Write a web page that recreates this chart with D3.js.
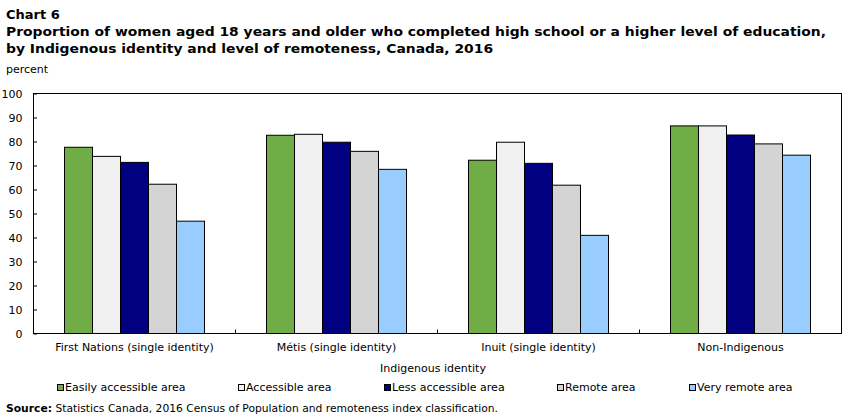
<!DOCTYPE html>
<html>
<head>
<meta charset="utf-8">
<script src="https://cdn.jsdelivr.net/npm/d3@7"></script>
<style>
  html, body { margin: 0; padding: 0; background: #fff; }
  svg { display: block; font-family: "DejaVu Sans", Verdana, sans-serif; }
</style>
</head>
<body>
<svg id="chart" width="852" height="417"></svg>
<script>
const categories = ["First Nations (single identity)", "Métis (single identity)", "Inuit (single identity)", "Non-Indigenous"];
const seriesNames = ["Easily accessible area", "Accessible area", "Less accessible area", "Remote area", "Very remote area"];
const easilyAccessible = [77.6, 82.6, 72.2, 86.5];
const accessible       = [73.8, 83.0, 79.7, 86.5];
const lessAccessible   = [71.3, 79.7, 70.9, 82.7];
const remote           = [62.2, 75.9, 61.8, 79.0];
const veryRemote       = [46.8, 68.4, 40.9, 74.3];
const yTicks = [0, 10, 20, 30, 40, 50, 60, 70, 80, 90, 100];
const colors = ["#70ad47", "#f0f0f0", "#000080", "#d4d4d4", "#99ccff"];

const seriesValues = [easilyAccessible, accessible, lessAccessible, remote, veryRemote];
const data = categories.map((c, i) => ({
  category: c,
  values: seriesNames.map((s, j) => ({ series: s, value: seriesValues[j][i], color: colors[j] }))
}));

const svg = d3.select("#chart");
const L = 33.5, R = 841.5, T = 93.5, B = 333.5;

const x0 = d3.scaleBand().domain(categories).range([L, R]).paddingInner(0).paddingOuter(0);
const bw = x0.bandwidth();
const barW = 28;
const po = (bw / barW - seriesNames.length) / 2;
const x1 = d3.scaleBand().domain(seriesNames).range([0, bw]).paddingInner(0).paddingOuter(po);
const y = d3.scaleLinear().domain([0, 100]).range([B, T]);

// Title
const title = svg.append("g").attr("font-weight", "bold").attr("fill", "#000");
title.append("text").attr("x", 6).attr("y", 19).attr("font-size", 13).text("Chart 6");
const t1 = title.append("text").attr("x", 6).attr("y", 36).attr("font-size", 13)
  .text("Proportion of women aged 18 years and older who completed high school or a higher level of education,");
const t2 = title.append("text").attr("x", 6).attr("y", 53).attr("font-size", 13)
  .text("by Indigenous identity and level of remoteness, Canada, 2016");
const w1 = t1.node().getComputedTextLength();
const target1 = 820;
const ratio = target1 / w1;
t1.attr("textLength", target1).attr("lengthAdjust", "spacingAndGlyphs");
t2.attr("textLength", t2.node().getComputedTextLength() * ratio).attr("lengthAdjust", "spacingAndGlyphs");

svg.append("text").attr("x", 6).attr("y", 73).attr("font-size", 11).text("percent");

// Bars
const groups = svg.append("g").selectAll("g").data(data).join("g")
  .attr("transform", d => `translate(${x0(d.category)},0)`);
groups.selectAll("rect").data(d => d.values).join("rect")
  .attr("x", d => x1(d.series))
  .attr("y", d => y(d.value))
  .attr("width", x1.bandwidth())
  .attr("height", d => y(0) - y(d.value))
  .attr("fill", d => d.color)
  .attr("stroke", "#000")
  .attr("stroke-width", 1);

// Y axis
const yAxis = d3.axisLeft(y).tickValues(yTicks).tickSize(-3.5).tickPadding(11).tickFormat(d3.format("d"));
const gy = svg.append("g").attr("transform", `translate(${L},0)`).call(yAxis);
gy.select(".domain").remove();
gy.selectAll("text").attr("font-size", 11).attr("font-family", "DejaVu Sans, Verdana, sans-serif").attr("fill", "#000");
gy.selectAll("line").attr("stroke", "#000");

// X axis (labels + boundary ticks)
const xAxis = d3.axisBottom(x0).tickSize(0).tickPadding(10);
const gx = svg.append("g").attr("transform", `translate(0,${B})`).call(xAxis);
gx.select(".domain").remove();
gx.selectAll("text").attr("font-size", 11).attr("font-family", "DejaVu Sans, Verdana, sans-serif").attr("fill", "#000");
const bounds = categories.slice(1).map(c => x0(c));
svg.append("g").selectAll("line").data(bounds).join("line")
  .attr("x1", d => d).attr("x2", d => d)
  .attr("y1", B).attr("y2", B - 4)
  .attr("stroke", "#000");

// Frame
svg.append("rect").attr("x", L).attr("y", T).attr("width", R - L).attr("height", B - T)
  .attr("fill", "none").attr("stroke", "#000").attr("stroke-width", 1);

svg.append("text").attr("x", 433).attr("y", 372).attr("text-anchor", "middle").attr("font-size", 11)
  .text("Indigenous identity");

// Legend
const legendX = [57, 238, 384, 557, 689];
const lg = svg.append("g").selectAll("g").data(seriesNames).join("g")
  .attr("transform", (d, i) => `translate(${legendX[i]},0)`);
lg.append("rect").attr("x", 0.5).attr("y", 384.5).attr("width", 6).attr("height", 6)
  .attr("fill", (d, i) => colors[i]).attr("stroke", "#000").attr("stroke-width", 1);
lg.append("text").attr("x", 8).attr("y", 391).attr("font-size", 11).text(d => d);

// Source
const src = svg.append("text").attr("x", 6).attr("y", 412).attr("font-size", 11);
src.append("tspan").attr("font-weight", "bold").text("Source:");
src.append("tspan").text(" Statistics Canada, 2016 Census of Population and remoteness index classification.");
const sw = src.node().getComputedTextLength();
if (sw > 492) src.attr("textLength", 492).attr("lengthAdjust", "spacingAndGlyphs");
</script>
</body>
</html>
